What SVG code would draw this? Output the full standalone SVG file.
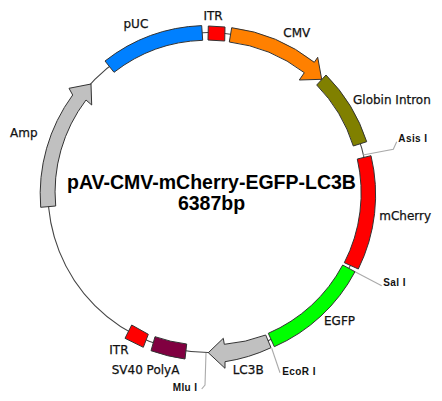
<svg xmlns="http://www.w3.org/2000/svg" width="442" height="401" viewBox="0 0 442 401">
<style>
text{font-family:"DejaVu Sans","Liberation Sans",sans-serif;fill:#111}
.l{font-size:12px;stroke:#111;stroke-width:.25}
.s{font-size:10px;font-weight:bold;font-family:"Liberation Sans",sans-serif;letter-spacing:.4px}
.t{font-size:19.5px;font-weight:bold;font-family:"Liberation Sans",sans-serif;fill:#000;text-anchor:middle}
.f{stroke:#333;stroke-width:1}
.c{fill:none;stroke:#444;stroke-width:1.1}
.p{fill:none;stroke:#aaa;stroke-width:1.1}
</style>
<rect width="442" height="401" fill="#fff"/>
<g id="connectors">
<circle class="c" cx="208" cy="192.5" r="160"/>
<path class="p" d="M363,155L393.3,149.3L396.7,141.7"/>
<path class="p" d="M355,271.7L381.7,285.7"/>
<path class="p" d="M271.7,348.3L280,372.7"/>
<path class="p" d="M206,353L205,385L201.7,389"/>
</g>
<g id="pUC"><path class="f" fill="#0080ff" d="M201.7,25.6A167.5,167.5 0 0 0 105,61L114,72.3A152.5,152.5 0 0 1 202.7,40.3Z"/><text class="l" x="123.5" y="28">pUC</text></g>
<g id="ITR1"><path class="f" fill="#f00" d="M208.3,26L225,27L224.7,41L208,40Z"/><text class="l" x="203.5" y="20">ITR</text></g>
<g id="CMV"><path class="f" fill="#ff8000" d="M231.7,27.7A167.5,167.5 0 0 1 314.3,62.3L317.7,57.3L321.7,79.3L299.3,80L304.3,72.7A152.5,152.5 0 0 0 229.3,42Z"/><text class="l" x="283.3" y="36.7">CMV</text></g>
<g id="GlobinIntron"><path class="f" fill="#808000" d="M326,75A167.5,167.5 0 0 1 366.7,141.7L353.3,146A152.5,152.5 0 0 0 316.7,85Z"/><text class="l" x="353" y="104">Globin Intron</text></g>
<g id="AsisI"><text class="s" x="398.3" y="141.7">Asis I</text></g>
<g id="mCherry"><path class="f" fill="#f00" d="M371,155.7A167.5,167.5 0 0 1 358.3,269L344.3,262.7A152.5,152.5 0 0 0 357.3,159Z"/><text class="l" x="379.3" y="220">mCherry</text></g>
<g id="SalI"><text class="s" x="383.3" y="286">Sal I</text></g>
<g id="EGFP"><path class="f" fill="#0f0" d="M355,271.7A167.5,167.5 0 0 1 274.3,346.7L268.3,333.3A152.5,152.5 0 0 0 342.7,265Z"/><text class="l" x="324" y="325">EGFP</text></g>
<g id="LC3B"><path class="f" fill="#c0c0c0" d="M271,347.7A167.5,167.5 0 0 1 225,361.7L225,368.3L208.3,352.7L223.3,338.3L224.3,344.3A152.5,152.5 0 0 0 265.7,335Z"/><text class="l" x="232.7" y="374">LC3B</text></g>
<g id="EcoRI"><text class="s" x="282.3" y="375">EcoR I</text></g>
<g id="MluI"><text class="s" x="172.7" y="391">Mlu I</text></g>
<g id="SV40PolyA"><path class="f" fill="#800040" d="M155,336.7A152.5,152.5 0 0 0 186.7,344L185,359A167.5,167.5 0 0 1 151,350.7Z"/><text class="l" x="111.7" y="374">SV40 PolyA</text></g>
<g id="ITR2"><path class="f" fill="#f00" d="M131.7,325L148.3,334.3L143.3,347.3L125,338.3Z"/><text class="l" x="109.3" y="354.3">ITR</text></g>
<g id="Amp"><path class="f" fill="#c0c0c0" d="M40.7,207.3A167.5,167.5 0 0 1 72.7,95L69,88.3L91,84L91.7,105L86,100A152.5,152.5 0 0 0 55.7,206Z"/><text class="l" x="10" y="136.7">Amp</text></g>
<g id="title"><text class="t" x="211.5" y="188.5">pAV-CMV-mCherry-EGFP-LC3B</text><text class="t" x="211.5" y="210">6387bp</text></g>
</svg>
